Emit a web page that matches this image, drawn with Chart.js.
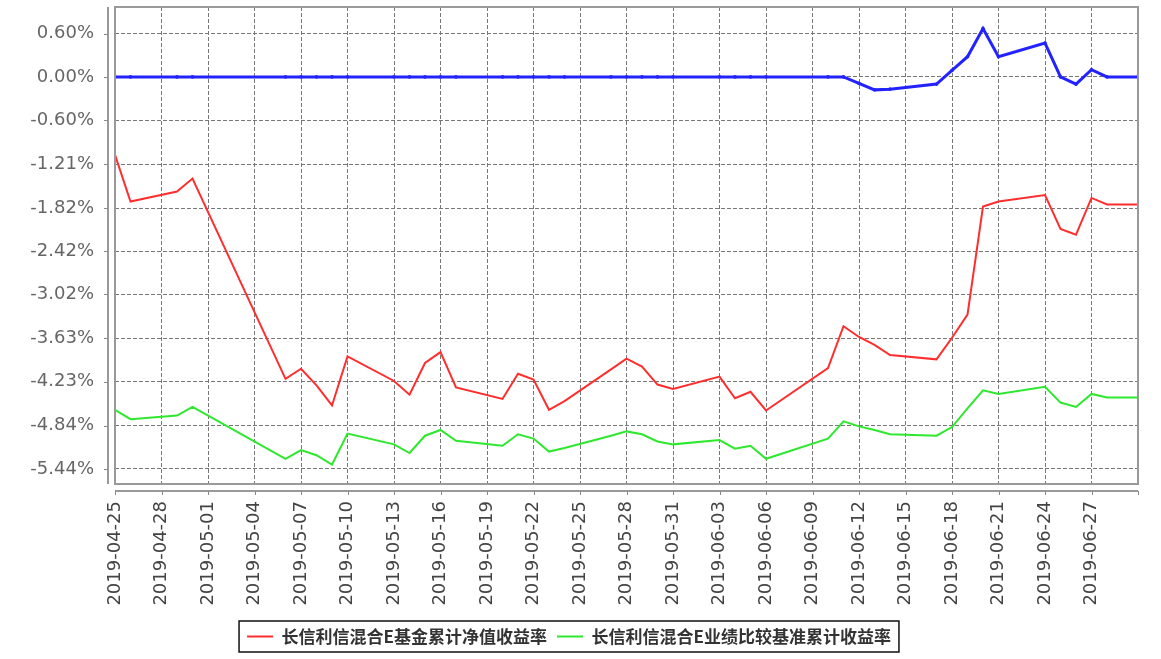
<!DOCTYPE html>
<html>
<head>
<meta charset="utf-8">
<script src="https://cdn.jsdelivr.net/npm/chart.js@4/dist/chart.umd.min.js"></script>
<style>
html, body { margin: 0; padding: 0; background: #fff; }
</style>
</head>
<body>
<canvas id="chart-nav" width="1161" height="659"></canvas>
<script>
// Data
// ================================================================================
let start_date = '2019-04-25';

let trade_dates = ['2019-04-25', '2019-04-26', '2019-04-29', '2019-04-30', '2019-05-06',
	'2019-05-07', '2019-05-08', '2019-05-09', '2019-05-10', '2019-05-13',
	'2019-05-14', '2019-05-15', '2019-05-16', '2019-05-17', '2019-05-20',
	'2019-05-21', '2019-05-22', '2019-05-23', '2019-05-24', '2019-05-27',
	'2019-05-28', '2019-05-29', '2019-05-30', '2019-05-31', '2019-06-03',
	'2019-06-04', '2019-06-05', '2019-06-06', '2019-06-10', '2019-06-11',
	'2019-06-12', '2019-06-13', '2019-06-14', '2019-06-17', '2019-06-18',
	'2019-06-19', '2019-06-20', '2019-06-21', '2019-06-24', '2019-06-25',
	'2019-06-26', '2019-06-27', '2019-06-28', '2019-06-30'];

// 长信利信混合E基金累计净值收益率 (%)
let fund_values = [-1.08, -1.73, -1.59, -1.41, -4.19,
	-4.05, -4.28, -4.56, -3.88, -4.22,
	-4.41, -3.97, -3.82, -4.31, -4.47,
	-4.12, -4.20, -4.62, -4.50, -4.06,
	-3.91, -4.02, -4.27, -4.33, -4.16,
	-4.46, -4.37, -4.63, -4.04, -3.46,
	-3.61, -3.72, -3.86, -3.92, -3.62,
	-3.30, -1.80, -1.73, -1.64, -2.11,
	-2.19, -1.68, -1.77, -1.77];

// 长信利信混合E业绩比较基准累计收益率 (%)
let bench_values = [-4.62, -4.75, -4.70, -4.58, -5.30,
	-5.18, -5.25, -5.38, -4.95, -5.10,
	-5.22, -4.98, -4.90, -5.05, -5.12,
	-4.96, -5.02, -5.20, -5.15, -4.98,
	-4.92, -4.96, -5.06, -5.10, -5.04,
	-5.16, -5.12, -5.30, -5.02, -4.78,
	-4.85, -4.90, -4.96, -4.98, -4.86,
	-4.60, -4.35, -4.40, -4.30, -4.52,
	-4.58, -4.40, -4.45, -4.45];

// blue series (no legend entry in the picture)
let blue_values = [0, 0, 0, 0, 0,
	0, 0, 0, 0, 0,
	0, 0, 0, 0, 0,
	0, 0, 0, 0, 0,
	0, 0, 0, 0, 0,
	0, 0, 0, 0, 0,
	-0.09, -0.18, -0.17, -0.10, 0.09,
	0.28, 0.67, 0.28, 0.47, 0.00,
	-0.10, 0.10, 0.00, 0.00];

let tick_labels = ['2019-04-25', '2019-04-28', '2019-05-01', '2019-05-04', '2019-05-07',
	'2019-05-10', '2019-05-13', '2019-05-16', '2019-05-19', '2019-05-22',
	'2019-05-25', '2019-05-28', '2019-05-31', '2019-06-03', '2019-06-06',
	'2019-06-09', '2019-06-12', '2019-06-15', '2019-06-18', '2019-06-21',
	'2019-06-24', '2019-06-27'];

let y_ticks = [-5.44, -4.84, -4.23, -3.63, -3.02, -2.42, -1.82, -1.21, -0.60, 0.00, 0.60];

// Helpers
// ================================================================================
let day_of = d => (Date.parse(d) - Date.parse(start_date)) / 86400000;
let to_points = values => values.map((v, i) => ({x: day_of(trade_dates[i]), y: v}));

// plot outline, offset axis lines (JFreeChart look) and the legend frame
let frame_plugin = {
	id: 'frame',
	afterDraw(chart) {
		let ctx = chart.ctx;
		let a = chart.chartArea;
		let x = chart.scales.x, y = chart.scales.y;
		let ax = a.left - 7, ay = a.bottom + 7;

		ctx.save();
		ctx.strokeStyle = '#999';
		ctx.lineWidth = 2;
		ctx.strokeRect(a.left, a.top, a.right - a.left, a.bottom - a.top);
		ctx.beginPath();
		ctx.moveTo(ax, a.top); ctx.lineTo(ax, a.bottom);
		ctx.moveTo(a.left, ay); ctx.lineTo(a.right, ay);
		ctx.stroke();

		ctx.lineWidth = 1;
		ctx.strokeStyle = '#888';
		ctx.beginPath();
		y.ticks.forEach(t => {
			let py = Math.round(y.getPixelForValue(t.value)) + 0.5;
			ctx.moveTo(ax - 4, py); ctx.lineTo(ax, py);
		});
		x.ticks.forEach(t => {
			let px = Math.round(x.getPixelForValue(t.value)) + 0.5;
			ctx.moveTo(px, ay); ctx.lineTo(px, ay + 4);
		});
		ctx.stroke();

		let boxes = chart.legend.legendHitBoxes;
		if(boxes && boxes.length) {
			let l = Math.min(...boxes.map(b => b.left)) - 8;
			let r = Math.max(...boxes.map(b => b.left + b.width)) + 8;
			let t = Math.min(...boxes.map(b => b.top)) - 7;
			let b2 = Math.max(...boxes.map(b => b.top + b.height)) + 7;
			ctx.strokeStyle = '#111';
			ctx.lineWidth = 1.5;
			ctx.strokeRect(l, t, r - l, b2 - t);
		}
		ctx.restore();
	}
};

// Chart
// ================================================================================
new Chart(document.getElementById('chart-nav'), {
	type: 'line',
	data: {
		datasets: [
			{
				label: '长信利信混合E基金累计净值收益率',
				data: to_points(fund_values),
				borderColor: '#ff2e2e',
				backgroundColor: '#ff2e2e',
				borderWidth: 2,
				pointRadius: 0
			},
			{
				label: '长信利信混合E业绩比较基准累计收益率',
				data: to_points(bench_values),
				borderColor: '#2ee82e',
				backgroundColor: '#2ee82e',
				borderWidth: 2,
				pointRadius: 0
			},
			{
				label: 'blue',
				data: to_points(blue_values),
				borderColor: '#2323ff',
				backgroundColor: '#2323ff',
				borderWidth: 3,
				pointRadius: 1.8,
				pointBorderWidth: 0
			}
		]
	},
	options: {
		responsive: false,
		animation: false,
		layout: {padding: {top: 7, right: 23, bottom: 4, left: 0}},
		scales: {
			x: {
				type: 'linear',
				min: 0,
				max: 66,
				afterFit: s => { s.height = 134; s.paddingLeft = 0; s.paddingRight = 0; },
				grid: {color: '#777', lineWidth: 1, drawTicks: false},
				border: {display: false, dash: [4, 2]},
				ticks: {
					stepSize: 3,
					autoSkip: false,
					minRotation: 90,
					maxRotation: 90,
					padding: 17,
					color: '#444',
					font: {family: "'DejaVu Sans'", size: 18},
					callback: v => tick_labels[v / 3] || ''
				}
			},
			y: {
				min: -5.65,
				max: 0.97,
				afterFit: s => { s.width = 115; s.paddingTop = 0; s.paddingBottom = 0; },
				afterBuildTicks: s => { s.ticks = y_ticks.map(v => ({value: v})); },
				grid: {color: '#777', lineWidth: 1, drawTicks: false},
				border: {display: false, dash: [4, 2]},
				ticks: {
					padding: 21,
					color: '#666',
					font: {family: "'DejaVu Sans'", size: 18},
					callback: v => v.toFixed(2) + '%'
				}
			}
		},
		plugins: {
			tooltip: {enabled: false},
			legend: {
				position: 'bottom',
				labels: {
					filter: item => item.datasetIndex !== 2,
					usePointStyle: true,
					pointStyle: 'line',
					pointStyleWidth: 26,
					padding: 10,
					color: '#333',
					font: {family: "'Noto Sans CJK SC'", size: 17, weight: 'bold'}
				}
			}
		}
	},
	plugins: [frame_plugin]
});
</script>
</body>
</html>
